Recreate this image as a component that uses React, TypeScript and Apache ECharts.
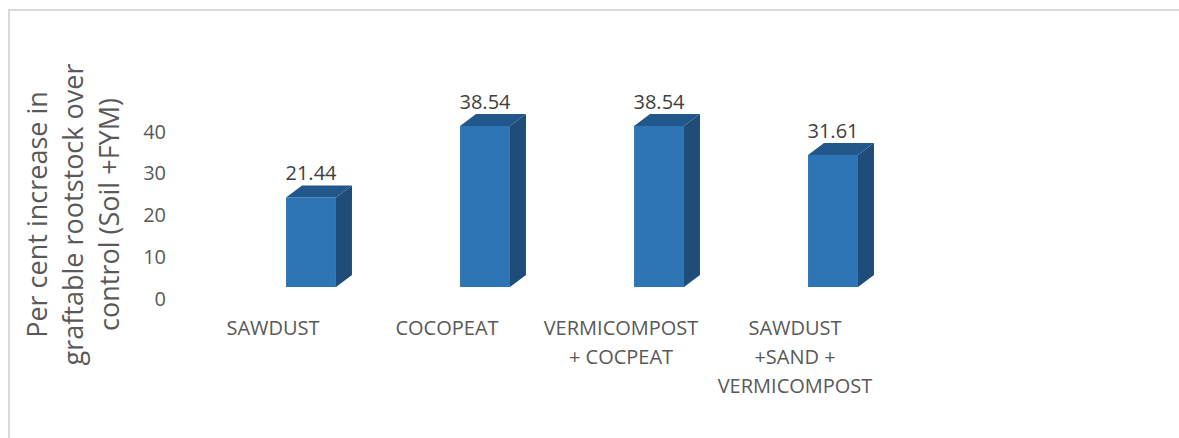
import React, { useEffect, useRef } from "react";
import * as echarts from "echarts";

const categories = [
  "SAWDUST",
  "COCOPEAT",
  "VERMICOMPOST\n+ COCPEAT",
  "SAWDUST\n+SAND +\nVERMICOMPOST",
];
const values = [21.44, 38.54, 38.54, 31.61];
const yTicks = { min: 0, max: 40, interval: 10 };
const yTitle = "Per cent increase in\ngraftable rootstock over\ncontrol (Soil +FYM)";

const FRONT = "#2E75B6";
const TOP = "#22578C";
const SIDE = "#1F4C78";
const FONT = "'Open Sans', sans-serif";

export default function App() {
  const ref = useRef<HTMLDivElement>(null);

  useEffect(() => {
    document.body.style.margin = "0";
    const chart = echarts.init(ref.current!, null, { renderer: "svg" });
    const shiftX = 38;
    const lift = 11;
    const dx = 16;
    const dy = 12;
    const widthRatio = 0.287;

    chart.setOption({
      animation: false,
      backgroundColor: "#ffffff",
      grid: { left: 186, top: 131, width: 696, height: 167 },
      graphic: [
        {
          type: "rect",
          silent: true,
          shape: { x: 9, y: 10, width: 1300, height: 600 },
          style: { fill: "none", stroke: "#D9D9D9", lineWidth: 2 },
        },
      ],
      xAxis: {
        type: "category",
        data: categories,
        axisLine: { show: false },
        axisTick: { show: false },
        axisLabel: {
          color: "#595959",
          fontFamily: FONT,
          fontSize: 20,
          lineHeight: 29,
          margin: 15,
          interval: 0,
        },
      },
      yAxis: {
        type: "value",
        min: yTicks.min,
        max: yTicks.max,
        interval: yTicks.interval,
        splitLine: { show: false },
        axisLine: { show: false },
        axisTick: { show: false },
        axisLabel: {
          color: "#595959",
          fontFamily: FONT,
          fontSize: 20,
          margin: 20,
        },
        name: yTitle,
        nameLocation: "middle",
        nameRotate: 90,
        nameGap: 60,
        nameTextStyle: {
          color: "#595959",
          fontFamily: FONT,
          fontSize: 27,
          lineHeight: 36,
          align: "center",
        },
      },
      series: [
        {
          type: "custom",
          clip: false,
          data: values.map((v, i) => [i, v]),
          renderItem: (params: any, api: any) => {
            const idx = api.value(0);
            const v = api.value(1);
            const top = api.coord([idx, v]);
            const base = api.coord([idx, 0]);
            const bw = api.size([1, 0])[0] * widthRatio;
            const cx = top[0] + shiftX;
            const yTop = top[1] - lift;
            const yBase = base[1] - lift;
            const l = cx - bw / 2;
            const r = cx + bw / 2;
            return {
              type: "group",
              children: [
                {
                  type: "rect",
                  shape: { x: l, y: yTop, width: bw, height: yBase - yTop },
                  style: { fill: FRONT },
                },
                {
                  type: "polygon",
                  shape: {
                    points: [
                      [l, yTop],
                      [l + dx, yTop - dy],
                      [r + dx, yTop - dy],
                      [r, yTop],
                    ],
                  },
                  style: { fill: TOP },
                },
                {
                  type: "polygon",
                  shape: {
                    points: [
                      [r, yTop],
                      [r + dx, yTop - dy],
                      [r + dx, yBase - dy],
                      [r, yBase],
                    ],
                  },
                  style: { fill: SIDE },
                },
                {
                  type: "text",
                  style: {
                    text: v.toFixed(2),
                    x: cx,
                    y: yTop - dy - 13,
                    align: "center",
                    verticalAlign: "middle",
                    fill: "#404040",
                    font: `20px ${FONT}`,
                  },
                },
              ],
            };
          },
        },
      ],
    });
    return () => chart.dispose();
  }, []);

  return <div ref={ref} style={{ width: 1179, height: 438 }} />;
}
